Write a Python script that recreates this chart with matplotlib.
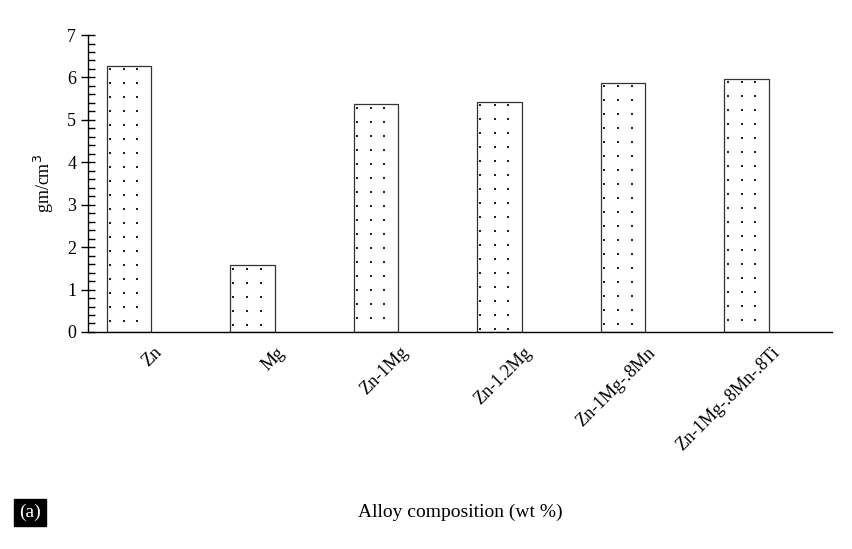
import matplotlib
matplotlib.use("Agg")
import matplotlib.pyplot as plt
import numpy as np
from matplotlib.ticker import MultipleLocator
from matplotlib.transforms import ScaledTranslation

categories = ["Zn", "Mg", "Zn-1Mg", "Zn-1.2Mg", "Zn-1Mg-.8Mn", "Zn-1Mg-.8Mn-.8Ti"]
density = [6.28, 1.57, 5.37, 5.43, 5.87, 5.97]

plt.rcParams['font.family'] = ['Liberation Serif', 'DejaVu Serif']

fig = plt.figure(figsize=(8.52, 5.49), dpi=100)
ax = fig.add_axes([0.1033, 0.3953, 0.8732, 0.5409])
x = np.arange(len(categories))
w = 0.36
bars = ax.bar(x, density, width=w, color='white', edgecolor='#333333', linewidth=0.9)
# dotted fill pattern inside each bar
for b in bars:
    x0 = b.get_x()
    h = b.get_height()
    xs = x0 + np.array([0.07, 0.39, 0.69]) * w
    ys = np.arange(h - 0.08, 0.05, -0.33)
    gx, gy = np.meshgrid(xs, ys)
    ax.scatter(gx.ravel(), gy.ravel(), s=1.2, color='#222222', marker='s', linewidths=0, zorder=3)
ax.set_xlim(-0.33, 5.69)
ax.set_ylim(0, 7)
ax.yaxis.set_major_locator(MultipleLocator(1))
ax.yaxis.set_minor_locator(MultipleLocator(0.2))
ax.tick_params(axis='y', which='major', direction='inout', length=10, width=1, labelsize=13)
ax.tick_params(axis='y', which='minor', direction='in', length=5, width=1)
ax.tick_params(axis='x', length=0, labelsize=13, pad=0)
ax.set_xticks(x)
ax.set_xticklabels(categories, rotation=45, ha='right', va='top', rotation_mode='anchor')
off = ScaledTranslation(0.24, -0.12, fig.dpi_scale_trans)
for lab in ax.get_xticklabels():
    lab.set_transform(lab.get_transform() + off)
for s in ['top', 'right']:
    ax.spines[s].set_visible(False)
ax.spines['left'].set_linewidth(1)
ax.spines['bottom'].set_linewidth(1)
ax.set_ylabel("gm/cm$^3$", fontsize=13, labelpad=8)
fig.text(0.54, 0.066, "Alloy composition (wt %)", fontsize=14, ha='center', va='center')
fig.text(0.035, 0.066, "(a)", fontsize=14, ha='center', va='center', color='white',
         bbox=dict(facecolor='black', edgecolor='black', boxstyle='square,pad=0.25'))
fig.savefig("out.png", dpi=100)
